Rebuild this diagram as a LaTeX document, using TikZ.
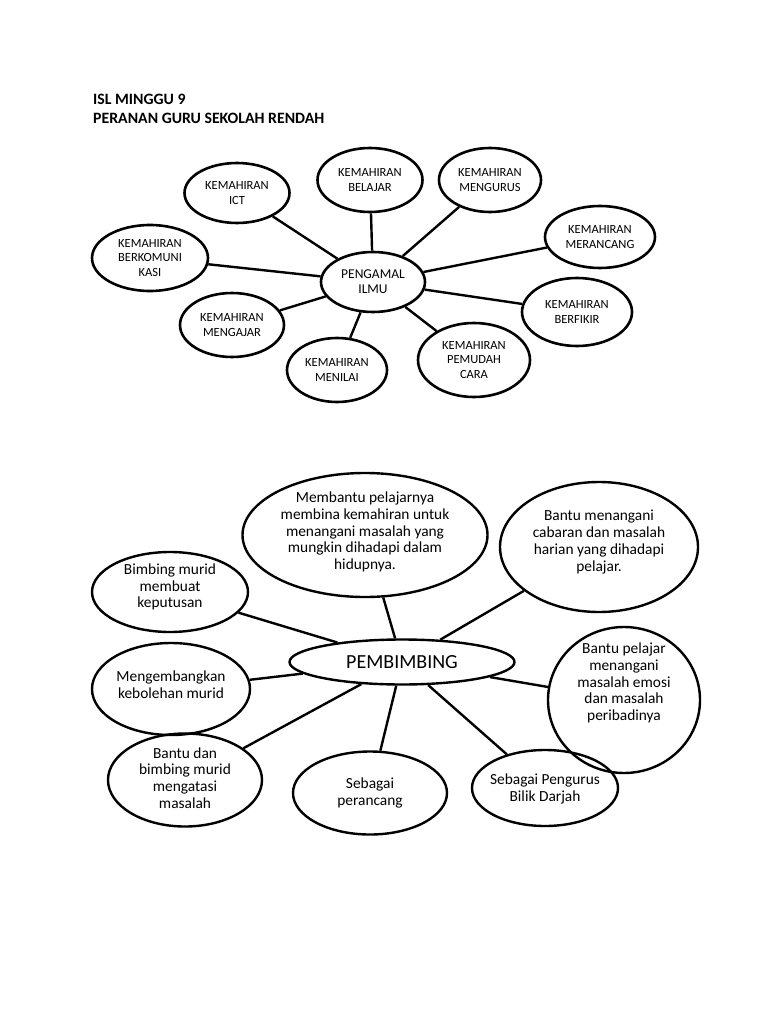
\documentclass[tikz,border=0pt]{standalone}
\usepackage{fontspec}
\setmainfont{Carlito}
\usetikzlibrary{shapes.geometric}
\begin{document}
\begin{tikzpicture}[x=1pt,y=-1pt,
  bub/.style={ellipse,draw,line width=2.6pt,inner sep=0pt},
  bubb/.style={ellipse,draw,line width=2.4pt,inner sep=0pt},
  tt/.style={align=center,inner sep=0pt,font=\fontsize{12.5}{14.5}\selectfont},
  bt/.style={align=center,inner sep=0pt,font=\fontsize{15.4}{16.8}\selectfont},
  con/.style={line width=2.4pt},
  conb/.style={line width=2.4pt}]
\useasboundingbox[fill=white] (0,0) rectangle (768,1024);
% title
\node[anchor=base west,inner sep=0pt,font=\bfseries\fontsize{15.8}{18}\selectfont] (t1) at (93,105) {ISL MINGGU 9};
\node[anchor=base west,inner sep=0pt,font=\bfseries\fontsize{15.8}{18}\selectfont] (t2) at (93,124) {PERANAN GURU SEKOLAH RENDAH};
% top diagram
\node[bub,minimum width=104pt,minimum height=60pt] (c) at (373,282) {};
\node[tt,font=\fontsize{13.5}{15}\selectfont] (ct) at (c) {PENGAMAL\\ILMU};
\node[bub,minimum width=105pt,minimum height=60pt] (ict) at (237,193) {};
\node[tt] (ictt) at (ict) {KEMAHIRAN\\ICT};
\node[bub,minimum width=105pt,minimum height=64pt] (bel) at (370,180) {};
\node[tt] (belt) at (bel) {KEMAHIRAN\\BELAJAR};
\node[bub,minimum width=102pt,minimum height=64pt] (men) at (490,180) {};
\node[tt] (ment) at (men) {KEMAHIRAN\\MENGURUS};
\node[bub,minimum width=110pt,minimum height=62pt] (mer) at (600,237) {};
\node[tt] (mert) at (mer) {KEMAHIRAN\\MERANCANG};
\node[bub,minimum width=116pt,minimum height=66pt] (ber) at (150,258) {};
\node[tt] (bert) at (ber) {KEMAHIRAN\\BERKOMUNI\\KASI};
\node[bub,minimum width=110pt,minimum height=68pt] (fik) at (577,312) {};
\node[tt] (fikt) at (fik) {KEMAHIRAN\\BERFIKIR};
\node[bub,minimum width=104pt,minimum height=64pt] (aja) at (232,325) {};
\node[tt] (ajat) at (aja) {KEMAHIRAN\\MENGAJAR};
\node[bub,minimum width=112pt,minimum height=74pt] (pem) at (474,360) {};
\node[tt] (pemt) at (pem) {KEMAHIRAN\\PEMUDAH\\CARA};
\node[bub,minimum width=100pt,minimum height=64pt] (nil) at (337,370) {};
\node[tt] (nilt) at (nil) {KEMAHIRAN\\MENILAI};
\foreach \n in {ict,bel,men,mer,ber,fik,aja,pem,nil} \draw[con] (c) -- (\n);
% bottom diagram
\node[bubb,minimum width=225pt,minimum height=45pt] (p) at (402,662) {};
\node[tt,font=\fontsize{20}{22}\selectfont] (pt) at (p) {PEMBIMBING};
\node[bubb,minimum width=245pt,minimum height=124pt] (b1) at (365,535) {};
\node[bt] (b1t) at (365,532) {Membantu pelajarnya\\membina kemahiran untuk\\menangani masalah yang\\mungkin dihadapi dalam\\hidupnya.};
\node[bubb,minimum width=198pt,minimum height=130pt] (b2) at (599,547) {};
\node[bt] (b2t) at (599,542) {Bantu menangani\\cabaran dan masalah\\harian yang dihadapi\\pelajar.};
\node[bubb,minimum width=156pt,minimum height=80pt] (b3) at (170,592) {};
\node[bt] (b3t) at (170,587) {Bimbing murid\\membuat\\keputusan};
\node[bubb,minimum width=158pt,minimum height=92pt] (b4) at (171,689) {};
\node[bt] (b4t) at (171,685) {Mengembangkan\\kebolehan murid};
\node[bubb,minimum width=152pt,minimum height=146pt] (b5) at (624,700) {};
\node[bt] (b5t) at (624,683) {Bantu pelajar\\menangani\\masalah emosi\\dan masalah\\peribadinya};
\node[bubb,minimum width=154pt,minimum height=93pt] (b6) at (185,780) {};
\node[bt] (b6t) at (185,778) {Bantu dan\\bimbing murid\\mengatasi\\masalah};
\node[bubb,minimum width=154pt,minimum height=83pt] (b7) at (370,793) {};
\node[bt] (b7t) at (370,793) {Sebagai\\perancang};
\node[bubb,minimum width=146pt,minimum height=76pt] (b8) at (545,788) {};
\node[bt] (b8t) at (545,789) {Sebagai Pengurus\\Bilik Darjah};
\foreach \n in {b1,b2,b3,b4,b5,b6,b7,b8} \draw[conb] (p) -- (\n);
\end{tikzpicture}
\end{document}
